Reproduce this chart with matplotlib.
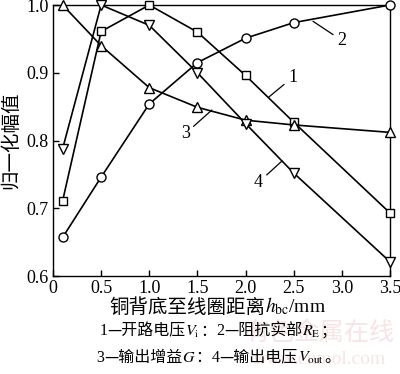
import matplotlib
matplotlib.use("Agg")
import matplotlib.pyplot as plt
from matplotlib.offsetbox import TextArea, HPacker, AnchoredOffsetbox

plt.rcParams['font.family'] = ['Liberation Serif', 'Noto Sans CJK SC', 'DejaVu Sans']
plt.rcParams['mathtext.fontset'] = 'stix'

x = [0.1, 0.5, 1.0, 1.5, 2.0, 2.5, 3.5]
s1 = [0.711, 0.961, 1.000, 0.960, 0.896, 0.827, 0.693]   # squares
s2 = [0.657, 0.746, 0.854, 0.915, 0.951, 0.974, 1.000]   # circles
s3 = [1.000, 0.940, 0.878, 0.849, 0.830, 0.823, 0.812]   # triangles up
s4 = [0.788, 1.000, 0.970, 0.900, 0.825, 0.752, 0.621]   # triangles down

xticks = [0, 0.5, 1.0, 1.5, 2.0, 2.5, 3.0, 3.5]
xticklabels = ['0', '0.5', '1.0', '1.5', '2.0', '2.5', '3.0', '3.5']
yticks = [0.6, 0.7, 0.8, 0.9, 1.0]
yticklabels = ['0.6', '0.7', '0.8', '0.9', '1.0']

CJK = ['Noto Sans CJK SC', 'DejaVu Sans']
SERIF = ['Liberation Serif', 'DejaVu Sans']

fig = plt.figure(figsize=(4, 3.74), dpi=100)
ax = fig.add_axes([0.1325, 0.262, 0.8425, 0.7246])

kw = dict(color='black', lw=1.2, mfc='white', mec='black', mew=1.0, clip_on=False, zorder=3)
ax.plot(x, s1, marker='s', ms=5.5, **kw)
ax.plot(x, s2, marker='o', ms=6.5, **kw)
ax.plot(x, s3, marker='^', ms=6.5, **kw)
ax.plot(x, s4, marker='v', ms=6.5, **kw)

ax.set_xlim(0, 3.5)
ax.set_ylim(0.6, 1.0)
ax.set_xticks(xticks)
ax.set_xticklabels(xticklabels)
ax.set_yticks(yticks)
ax.set_yticklabels(yticklabels)
ax.tick_params(direction='in', length=4, width=1, labelsize=13, top=False, right=False, pad=3)
for sp in ax.spines.values():
    sp.set_linewidth(1.0)

# annotations
ann = dict(color='black', lw=0.9)
ax.annotate('1', xy=(2.24, 0.864), xytext=(2.44, 0.893), fontsize=13,
            arrowprops=dict(arrowstyle='-', shrinkA=1, shrinkB=0, **ann), ha='left', va='center')
ax.annotate('2', xy=(2.70, 0.976), xytext=(2.95, 0.948), fontsize=13,
            arrowprops=dict(arrowstyle='-', shrinkA=1, shrinkB=0, **ann), ha='left', va='center')
ax.annotate('3', xy=(1.65, 0.845), xytext=(1.42, 0.810), fontsize=13,
            arrowprops=dict(arrowstyle='-', shrinkA=1, shrinkB=0, **ann), ha='right', va='center')
ax.annotate('4', xy=(2.38, 0.770), xytext=(2.18, 0.738), fontsize=13,
            arrowprops=dict(arrowstyle='-', shrinkA=1, shrinkB=0, **ann), ha='right', va='center')

ax.set_ylabel('归一化幅值', fontsize=14, labelpad=4, family=CJK)


def line_of(pieces, y, size):
    boxes = []
    for txt, fam in pieces:
        boxes.append(TextArea(txt, textprops=dict(family=fam, fontsize=size, color='black')))
    pack = HPacker(children=boxes, align='baseline', pad=0, sep=0)
    ab = AnchoredOffsetbox(loc='center', child=pack, pad=0, borderpad=0, frameon=False,
                           bbox_to_anchor=(0.545, y), bbox_transform=fig.transFigure)
    fig.add_artist(ab)


fig.text(0.80, 0.11, '有色金属在线', ha='center', va='center', fontsize=18,
         color='#f7e4e4', family=CJK, zorder=0)
fig.text(0.80, 0.04, 'www.cnmol.com', ha='center', va='center', fontsize=14,
         color='#f7e4e4', zorder=0)

line_of([('铜背底至线圈距离', CJK), ('$h_{\\mathrm{bc}}$/mm', SERIF)], 0.18, 14)
line_of([('1', SERIF), ('—开路电压', CJK), ('$V_{\\mathrm{i}}$', SERIF), ('：', CJK),
         ('2', SERIF), ('—阻抗实部', CJK), ('$R_{\\mathrm{E}}$', SERIF), ('；', CJK)], 0.115, 11.5)
line_of([('3', SERIF), ('—输出增益', CJK), ('$G$', SERIF), ('：', CJK),
         ('4', SERIF), ('—输出电压', CJK), ('$V_{\\mathrm{out}}$', SERIF), ('。', CJK)], 0.045, 11.5)

fig.savefig('out.png', dpi=100)
